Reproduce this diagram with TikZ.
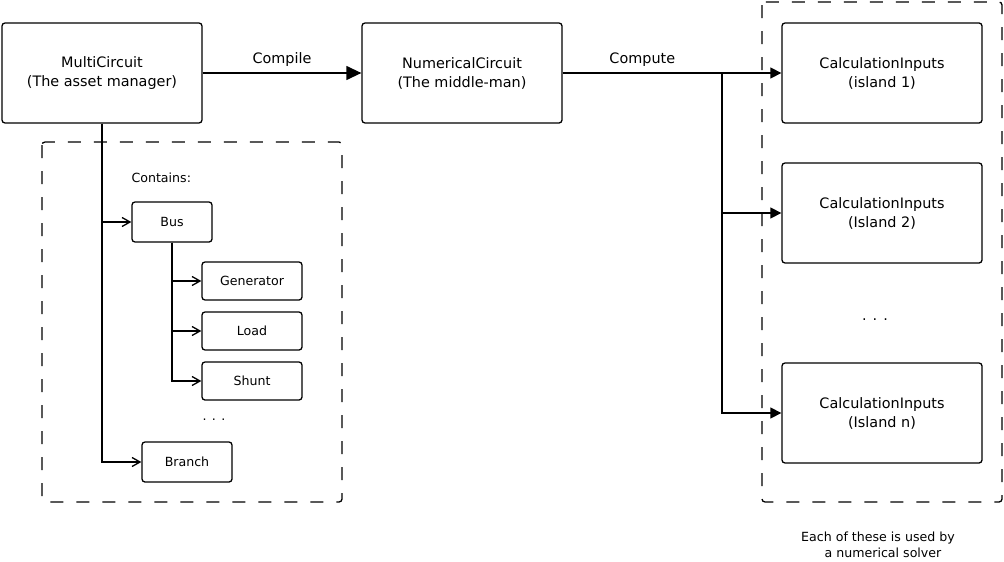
\documentclass[tikz,border=0pt]{standalone}
\usepackage{fontspec}
\setmainfont{DejaVu Sans}
\usetikzlibrary{arrows.meta,positioning}

\begin{document}
\begin{tikzpicture}[x=1pt,y=1pt]
\tikzstyle{bigbox} = [draw,rounded corners=3pt,line width=1.3pt,minimum width=200pt,minimum height=100pt,align=center,inner sep=0pt,font=\fontsize{14.4}{19}\selectfont]
\tikzstyle{smallbox} = [draw,rounded corners=3pt,line width=1.3pt,minimum height=38pt,inner sep=0pt,font=\fontsize{12.6}{15}\selectfont]
\tikzstyle{elabel} = [inner sep=0pt,font=\fontsize{14.4}{19}\selectfont]
\tikzstyle{slabel} = [inner sep=0pt,font=\fontsize{12.6}{15}\selectfont]
\tikzstyle{note} = [inner sep=0pt,align=center,font=\fontsize{12.6}{15.5}\selectfont]
\tikzstyle{group} = [draw,line width=1.3pt,dash pattern=on 13pt off 13pt,rounded corners=3pt]
\tikzstyle{flow} = [line width=1.3pt,-{Triangle[length=11pt,width=11pt]}]
\tikzstyle{has} = [line width=1.3pt,-{Straight Barb[length=8pt,width=9pt]}]

\useasboundingbox (0,0) rectangle (1004,-562);

% main chain
\node[bigbox] (mc) at (102,-73) {MultiCircuit\\(The asset manager)};
\node[bigbox,right of=mc,node distance=360pt] (nc) {NumericalCircuit\\(The middle-man)};
\node[bigbox,right of=nc,node distance=420pt] (ci1) {CalculationInputs\\(island 1)};
\node[bigbox,below of=ci1,node distance=140pt] (ci2) {CalculationInputs\\(Island 2)};
\node[bigbox,below of=ci2,node distance=200pt] (cin) {CalculationInputs\\(Island n)};
\node[elabel] (cidots) at (875,-320) {. . .};
\node[note] (solver) at (878,-545) {Each of these is used by\\\hspace*{10pt}a numerical solver};

% contents of the asset manager
\node[smallbox,minimum width=80pt,minimum height=40pt] (bus) at (172,-222) {Bus};
\node[slabel,anchor=west] (contains) at ([yshift=44pt]bus.west) {Contains:};
\node[smallbox,minimum width=100pt] (gen) at (252,-281) {Generator};
\node[smallbox,minimum width=100pt,below of=gen,node distance=50pt] (load) {Load};
\node[smallbox,minimum width=100pt,below of=load,node distance=50pt] (shunt) {Shunt};
\node[slabel] (busdots) at (214,-420) {. . .};
\node[smallbox,minimum width=90pt,minimum height=40pt] (branch) at (187,-462) {Branch};

\draw[group] (42,-142) rectangle (342,-502);
\draw[group] (762,-2) rectangle (1002,-502);

\draw[flow,-{Triangle[length=15pt,width=14pt]}] (mc) -- node[elabel,above=5.5pt] {Compile} (nc);
\coordinate (split) at (722,-73);
\draw[line width=1.3pt] (nc) -- node[elabel,above=5.5pt] {Compute} (split);
\draw[flow] (split) -- (ci1);
\draw[flow] (split) |- (ci2);
\draw[flow] (split) |- (cin);

\draw[has] (mc) |- (bus);
\draw[has] (mc) |- (branch);
\draw[has] (bus) |- (gen);
\draw[has] (bus) |- (load);
\draw[has] (bus) |- (shunt);

\end{tikzpicture}
\end{document}
